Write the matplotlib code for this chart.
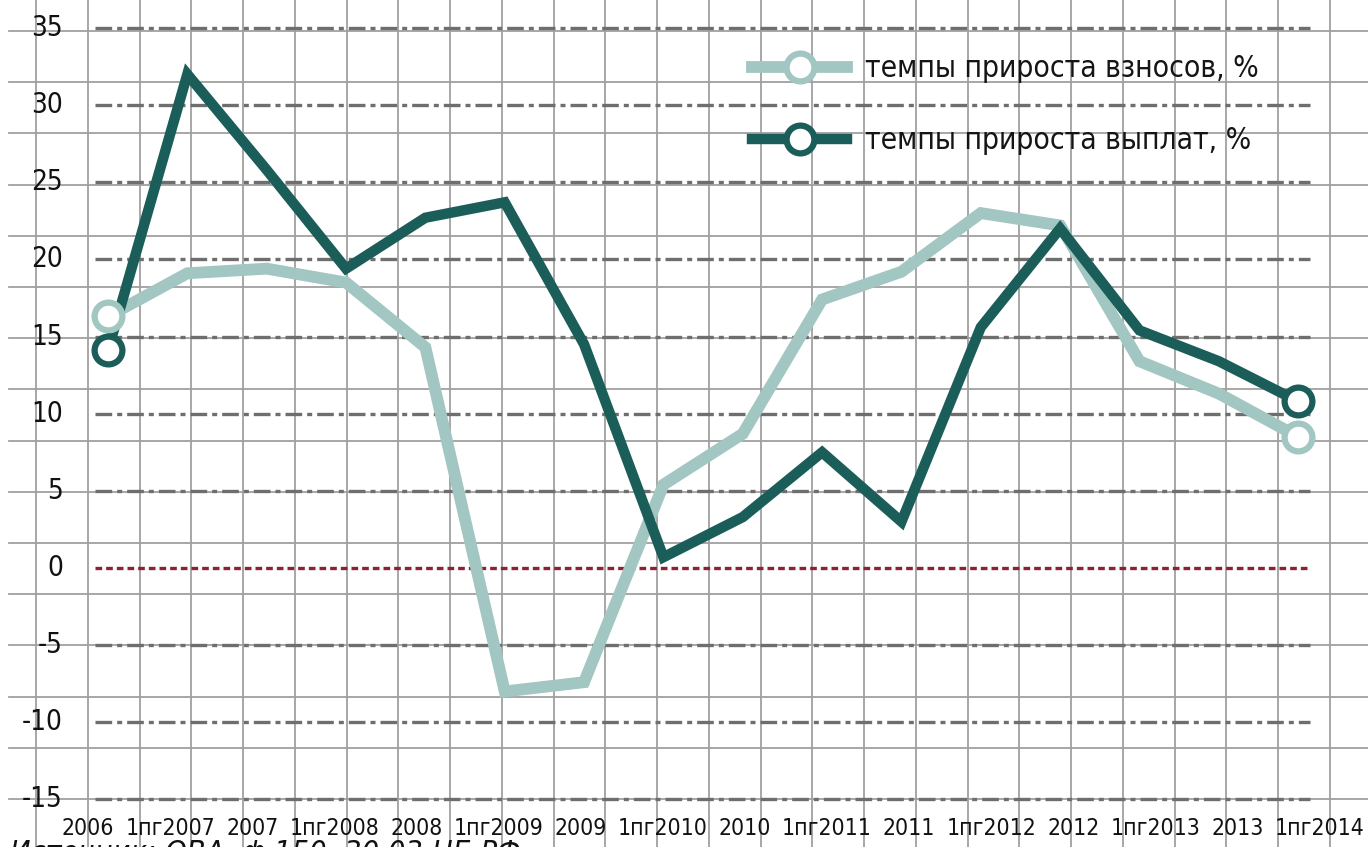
import matplotlib
matplotlib.use("Agg")
import matplotlib.pyplot as plt
import numpy as np
from matplotlib.lines import Line2D


periods = ["2006", "1пг2007", "2007", "1пг2008", "2008", "1пг2009", "2009", "1пг2010",
           "2010", "1пг2011", "2011", "1пг2012", "2012", "1пг2013", "2013", "1пг2014"]
contrib_growth = [16.3, 19.1, 19.4, 18.5, 14.3, -8.0, -7.4, 5.4,
                  8.7, 17.4, 19.2, 23.0, 22.2, 13.4, 11.3, 8.5]
payout_growth = [14.1, 32.0, 25.8, 19.4, 22.7, 23.7, 14.5, 0.7,
                 3.3, 7.5, 3.0, 15.6, 22.0, 15.4, 13.4, 10.8]
yticks = [35, 30, 25, 20, 15, 10, 5, 0, -5, -10, -15]
labels = ["темпы прироста взносов, %", "темпы прироста выплат, %"]

LIGHT = "#a2c6c2"
DARK = "#1b5e59"
W, H = 1368, 847

plt.rcParams["font.family"] = ["DejaVu Sans"]
plt.rcParams["font.stretch"] = "condensed"

fig = plt.figure(figsize=(W / 100, H / 100), dpi=100)

# graph-paper background
bg = fig.add_axes([0, 0, 1, 1])
bg.set_xlim(0, W)
bg.set_ylim(H, 0)
bg.axis("off")
for gx in np.linspace(36, 1330, 26):
    bg.axvline(gx, color="#a0a0a0", lw=1.3, zorder=0)
for gy in np.linspace(31, 799, 16):
    bg.plot([9, W], [gy, gy], color="#a0a0a0", lw=1.3, zorder=0)

ax = fig.add_axes([0, 0, 1, 1])
ax.patch.set_alpha(0)
ax.set_xlim(-1.361, 15.88)
ax.set_ylim(-18.08, 36.81)
ax.axis("off")

x = np.arange(len(periods))
for v in yticks:
    if v == 0:
        ax.hlines(v, -0.164, 15.15, color="#8e2035", lw=2.4,
                  linestyle=(0, (2, 1.2)), zorder=2)
    else:
        ax.hlines(v, -0.164, 15.15, color="#6e6e6e", lw=2.4,
                  linestyle=(0, (5, 1.5, 1.5, 1.5)), zorder=2)
    ax.text(-0.57, v, str(v), ha="right", va="center",
            fontsize=20, color="#111111", zorder=3)

ax.plot(x, contrib_growth, color=LIGHT, lw=8.5, solid_joinstyle="miter", zorder=4)
ax.plot(x, payout_growth, color=DARK, lw=7.5, solid_joinstyle="miter", zorder=5)
for ser, col in [(contrib_growth, LIGHT), (payout_growth, DARK)]:
    ax.plot([x[0], x[-1]], [ser[0], ser[-1]], ls="none", marker="o", ms=20,
            mfc="white", mec=col, mew=4.5, zorder=6)

label_pos = np.linspace(-0.25, 15.27, len(periods))
for xp, lab in zip(label_pos, periods):
    ax.text(xp, -16.9, lab, ha="center", va="center", fontsize=16.5, color="#111111")

handles = [
    Line2D([], [], color=LIGHT, lw=8.5, marker="o", ms=20, mfc="white", mec=LIGHT, mew=4.5),
    Line2D([], [], color=DARK, lw=7.5, marker="o", ms=20, mfc="white", mec=DARK, mew=4.5),
]
leg = ax.legend(handles, labels, loc="upper left", bbox_to_anchor=(0.53, 0.968),
                frameon=False, fontsize=21.5, handlelength=3.2, handletextpad=0.6,
                labelspacing=1.45, numpoints=1)
for t in leg.get_texts():
    t.set_color("#151515")

fig.text(10 / W, 1 - 839 / H, "Источник: ОВА, ф.150, 30.03 ЦБ РФ", ha="left", va="top",
         fontsize=22, style="italic", color="#111111")

fig.savefig("out.png", dpi=100)
